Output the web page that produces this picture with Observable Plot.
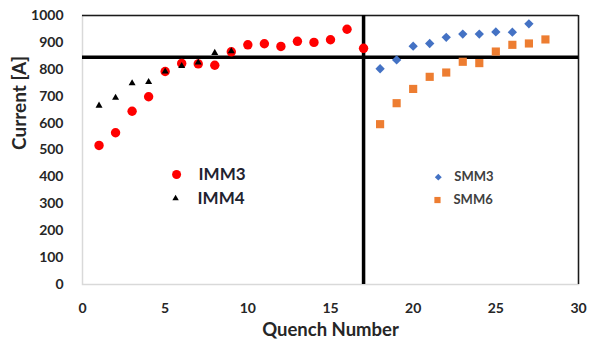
<!DOCTYPE html>
<html>
<head>
<meta charset="utf-8">
<script src="https://cdn.jsdelivr.net/npm/d3@7"></script>
<script src="https://cdn.jsdelivr.net/npm/@observablehq/plot@0.6"></script>
<style>
  html, body { margin: 0; padding: 0; background: #fff; }
  #chart svg { display: block; }
</style>
</head>
<body>
<div id="chart"></div>
<script>
// ---- data ----
const imm3Quench = [1,2,3,4,5,6,7,8,9,10,11,12,13,14,15,16,17];
const imm3Current = [517,564,644,698,792,822,820,815,865,891,895,885,904,900,910,949,878];
const imm4Quench = [1,2,3,4,5,6,7,8,9];
const imm4Current = [665,694,748,753,792,812,825,861,867];
const smm3Quench = [18,19,20,21,22,23,24,25,26,27];
const smm3Current = [802,835,886,896,919,931,931,939,938,969];
const smm6Quench = [18,19,20,21,22,23,24,25,26,27,28];
const smm6Current = [596,674,727,772,788,828,823,866,891,896,911];
const xTicks = [0,5,10,15,20,25,30];
const yTicks = [0,100,200,300,400,500,600,700,800,900,1000];
const thresholdCurrent = [845];
const splitQuench = [17];
const seriesNames = ["IMM3","IMM4","SMM3","SMM6"];

const zip = (xs, ys, s) => xs.map((x, i) => ({x, y: ys[i], s}));
const imm3 = zip(imm3Quench, imm3Current, seriesNames[0]);
const imm4 = zip(imm4Quench, imm4Current, seriesNames[1]);
const smm3 = zip(smm3Quench, smm3Current, seriesNames[2]);
const smm6 = zip(smm6Quench, smm6Current, seriesNames[3]);

// legend anchor points (data units)
const legendLeft = [{s: "IMM3", x: 5.69, y: 409}, {s: "IMM4", x: 5.63, y: 320}];
const legendRight = [{s: "SMM3", x: 21.52, y: 399}, {s: "SMM6", x: 21.47, y: 314}];

const font = "Lato, 'Open Sans', sans-serif";
const xMax = xTicks[xTicks.length - 1], yMax = yTicks[yTicks.length - 1];
const W = "bold";

const chart = Plot.plot({
  width: 589,
  height: 343,
  marginLeft: 82,
  marginRight: 11,
  marginTop: 15,
  marginBottom: 59,
  style: {fontFamily: font, background: "#fff", overflow: "visible"},
  x: {domain: [0, xMax]},
  y: {domain: [0, yMax]},
  marks: [
    Plot.frame({stroke: "#d9d9d9", strokeWidth: 1.5}),
    Plot.ruleY([yMax], {stroke: "#1a1a1a", strokeWidth: 1.5}),
    Plot.ruleX([xMax], {stroke: "#1a1a1a", strokeWidth: 1.5}),
    Plot.axisX({ticks: xTicks, tickFormat: d => String(d), tickSize: 0, tickPadding: 19, fontSize: 14, fontWeight: W, fill: "#262626", label: null}),
    Plot.axisY({ticks: yTicks, tickFormat: d => String(d), tickSize: 0, tickPadding: 19, fontSize: 14, fontWeight: W, fill: "#262626", label: null}),
    Plot.text(["Quench Number"], {frameAnchor: "bottom", dy: 46, fontSize: 18.5, fontWeight: W, fill: "#262626", lineAnchor: "middle"}),
    Plot.text(["Current [A]"], {frameAnchor: "left", dx: -63, rotate: -90, fontSize: 19, fontWeight: W, fill: "#262626", lineAnchor: "middle"}),
    Plot.ruleY(thresholdCurrent, {stroke: "#000", strokeWidth: 3.5}),
    Plot.ruleX(splitQuench, {stroke: "#000", strokeWidth: 3.5}),
    Plot.dot(imm3, {x: "x", y: "y", symbol: "circle", r: 4.7, fill: "#ff0000"}),
    Plot.dot(imm4, {x: "x", y: "y", symbol: "triangle", r: 2.6, fill: "#000"}),
    Plot.dot(smm3, {x: "x", y: "y", symbol: "diamond2", r: 4.2, fill: "#4472c4"}),
    Plot.dot(smm6, {x: "x", y: "y", symbol: "square", r: 4.6, fill: "#ed7d31"}),
    // legends
    Plot.dot(legendLeft.slice(0,1), {x: "x", y: "y", symbol: "circle", r: 4.5, fill: "#ff0000"}),
    Plot.dot(legendLeft.slice(1), {x: "x", y: "y", symbol: "triangle", r: 2.4, fill: "#000"}),
    Plot.text(legendLeft, {x: "x", y: "y", text: "s", dx: 22, textAnchor: "start", fontSize: 17, fontWeight: W, fill: "#1f2330"}),
    Plot.dot(legendRight.slice(0,1), {x: "x", y: "y", symbol: "diamond2", r: 3.1, fill: "#4472c4"}),
    Plot.dot(legendRight.slice(1), {x: "x", y: "y", symbol: "square", r: 3.5, fill: "#ed7d31"}),
    Plot.text(legendRight, {x: "x", y: "y", text: "s", dx: 16, textAnchor: "start", fontSize: 13, fontWeight: W, fill: "#404040"})
  ]
});
document.getElementById("chart").appendChild(chart);
</script>
</body>
</html>
